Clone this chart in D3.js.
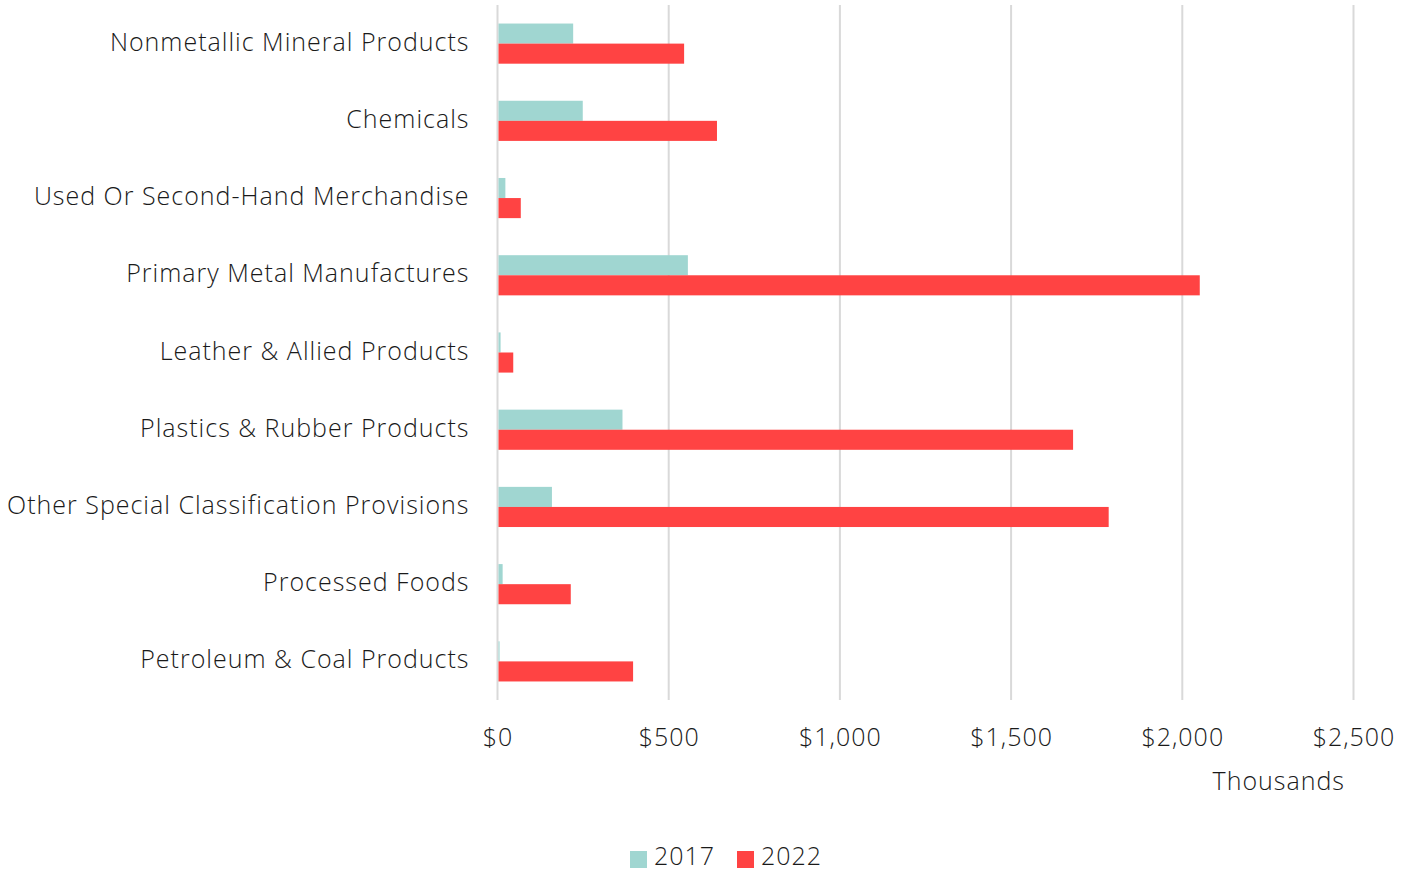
<!DOCTYPE html>
<html><head><meta charset="utf-8">
<script src="https://cdn.jsdelivr.net/npm/d3@7"></script>
<style>body{margin:0;background:#fff;}svg{display:block;font-family:"Open Sans",sans-serif;font-weight:300;}</style>
</head><body>
<svg id="c" width="1413" height="871"></svg>
<script>
const categories = ["Nonmetallic Mineral Products","Chemicals","Used Or Second-Hand Merchandise","Primary Metal Manufactures","Leather & Allied Products","Plastics & Rubber Products","Other Special Classification Provisions","Processed Foods","Petroleum & Coal Products"];
const series = ["2017","2022"];
const values2017 = [221,249,23,556,9,365,159,15,6];
const values2022 = [545,641,68,2051,46,1681,1785,214,396];
const ticks = [0,500,1000,1500,2000,2500];
const colors = ["#a0d6d1","#ff4343"];

const FONT = '"Open Sans",sans-serif';
const FS = 25, LS = "1px";
const svg = d3.select("#c");
const x = d3.scaleLinear().domain([0,2500]).range([497.5,1353.5]);
const y = d3.scaleBand().domain(categories).range([5,700]).paddingInner(0.48).paddingOuter(0.24);
const ys = d3.scaleBand().domain(series).range([0,y.bandwidth()]);

svg.append("g").selectAll("line").data(ticks).join("line")
  .attr("x1",d=>x(d)).attr("x2",d=>x(d)).attr("y1",5).attr("y2",700)
  .attr("stroke","#d9d9d9").attr("stroke-width",2);

const data = [values2017, values2022];
series.forEach((s,i)=>{
  svg.append("g").selectAll("rect").data(categories).join("rect")
    .attr("x",x(0)+1).attr("y",d=>y(d)+ys(s))
    .attr("width",(d,j)=>Math.max(0,x(data[i][j])-x(0)-1))
    .attr("height",ys.bandwidth())
    .attr("fill",colors[i]);
});

const ya = d3.axisLeft(y).tickSize(0).tickPadding(28);
const gy = svg.append("g").attr("transform",`translate(${x(0)},0)`).call(ya);
gy.select(".domain").remove();
gy.selectAll("text").attr("font-size",FS).attr("letter-spacing",LS).attr("fill","#1a1a1a").attr("font-family",FONT).attr("dy","0.28em");

const xa = d3.axisBottom(x).tickValues(ticks).tickSize(0).tickPadding(0).tickFormat(d=>"$"+d3.format(",")(d));
const gx = svg.append("g").attr("transform",`translate(0,728)`).call(xa);
gx.select(".domain").remove();
gx.selectAll("text").attr("font-size",FS).attr("letter-spacing",LS).attr("fill","#1a1a1a").attr("font-family",FONT);

svg.append("text").attr("x",1345).attr("y",790).attr("text-anchor","end").attr("font-size",FS).attr("letter-spacing",LS).attr("fill","#1a1a1a").text("Thousands");

const lg = svg.append("g");
const lx = [630,737];
series.forEach((s,i)=>{
  lg.append("rect").attr("x",lx[i]).attr("y",851).attr("width",17).attr("height",17).attr("fill",colors[i]);
  lg.append("text").attr("x",lx[i]+24).attr("y",865).attr("font-size",FS).attr("letter-spacing",LS).attr("fill","#1a1a1a").text(s);
});
</script>
</body></html>
